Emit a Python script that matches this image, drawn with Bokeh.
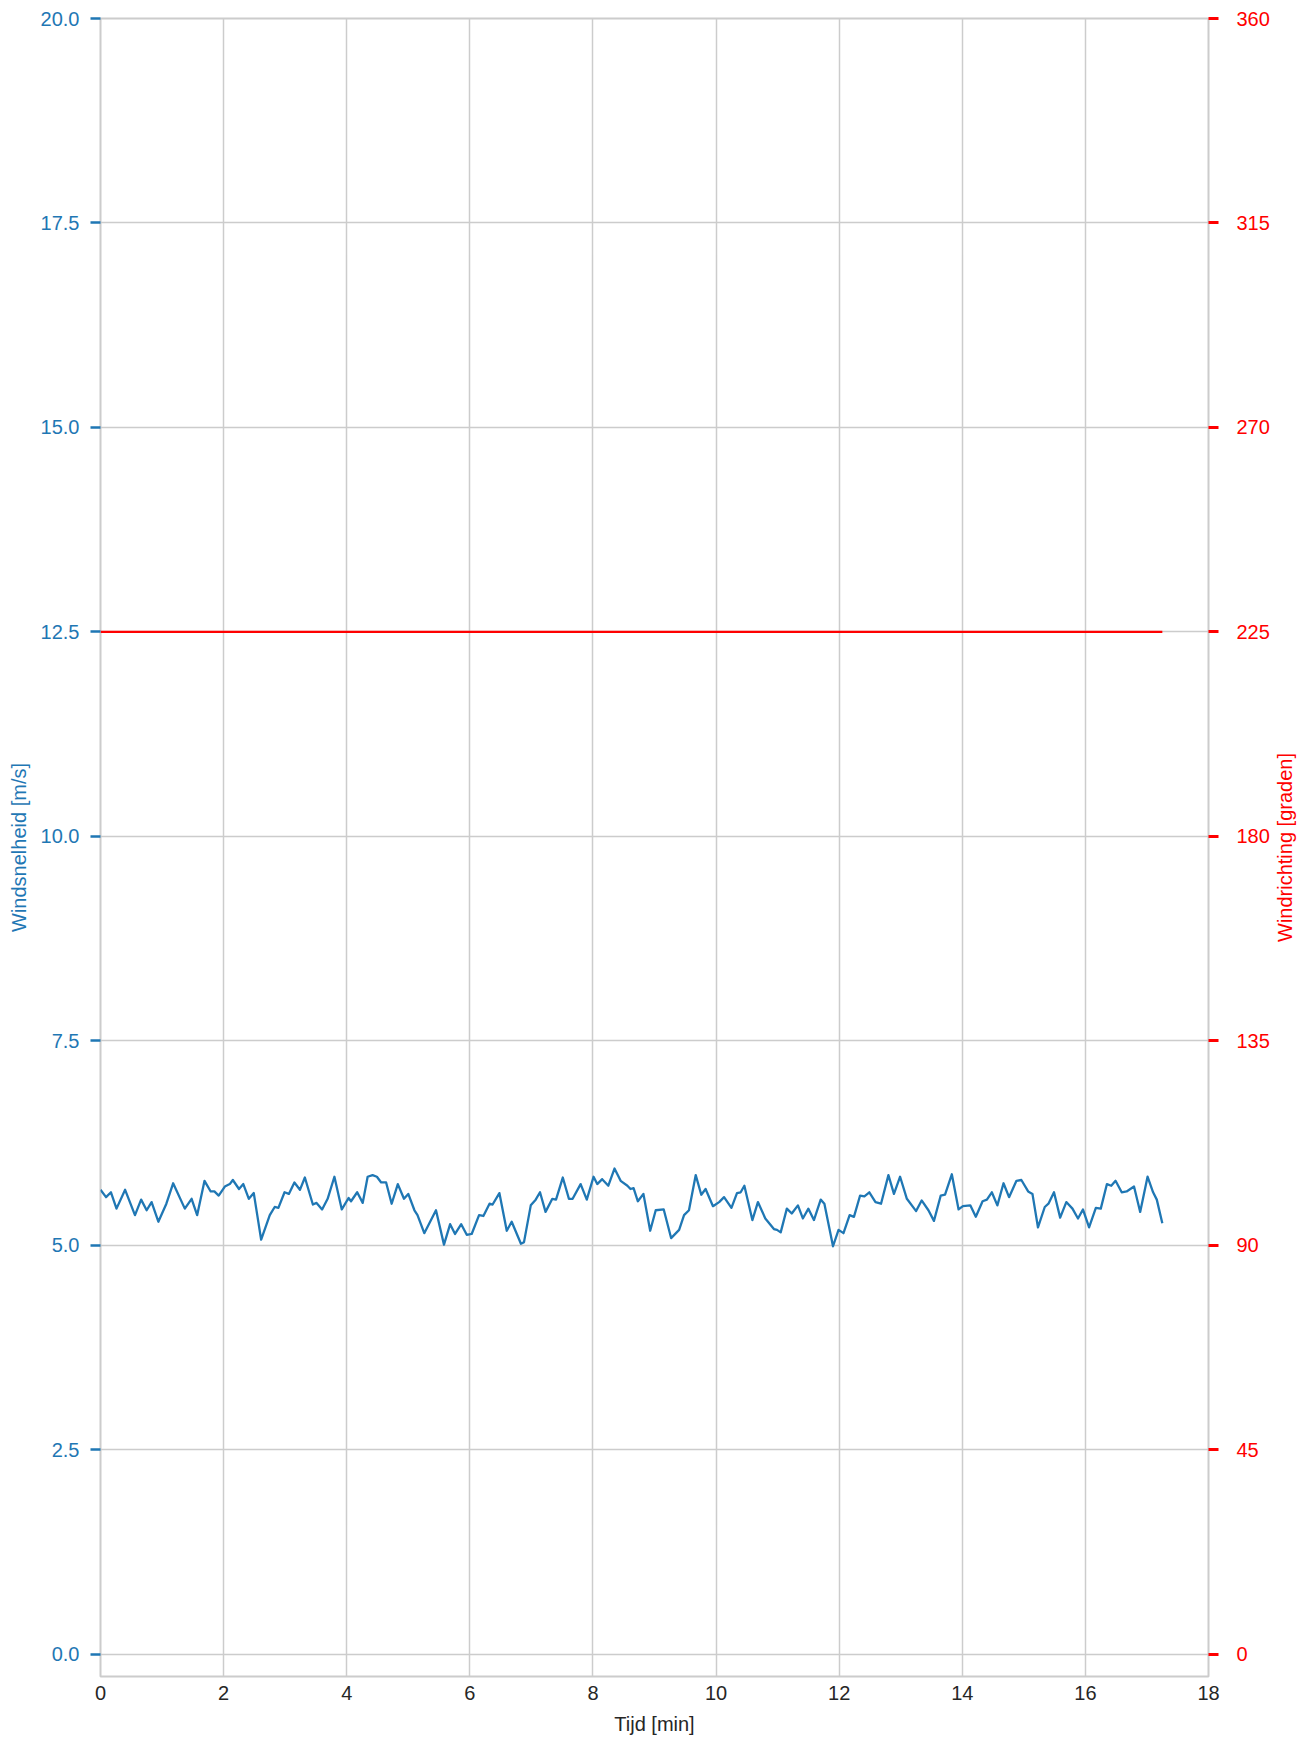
import math
from bokeh.plotting import figure
from bokeh.layouts import row
from bokeh.models import Range1d, LinearAxis, FixedTicker, NumeralTickFormatter, Label
from bokeh.embed import file_html
from bokeh.resources import INLINE

# ---- data ----
time_min = [0.00, 0.09, 0.17, 0.26, 0.40, 0.56, 0.66, 0.75, 0.83, 0.94, 1.07, 1.18, 1.37, 1.48, 1.57,
            1.69, 1.79, 1.85, 1.92, 2.02, 2.10, 2.15, 2.25, 2.32, 2.41, 2.49, 2.61, 2.75, 2.83, 2.89,
            2.99, 3.06, 3.15, 3.24, 3.32, 3.45, 3.51, 3.60, 3.69, 3.80, 3.92, 4.03, 4.07, 4.17, 4.26,
            4.34, 4.42, 4.49, 4.56, 4.64, 4.73, 4.83, 4.93, 5.00, 5.10, 5.15, 5.26, 5.45, 5.58, 5.68,
            5.76, 5.86, 5.95, 6.03, 6.15, 6.22, 6.32, 6.37, 6.48, 6.60, 6.68, 6.83, 6.88, 6.99, 7.07,
            7.14, 7.23, 7.34, 7.40, 7.51, 7.61, 7.67, 7.80, 7.90, 8.01, 8.07, 8.15, 8.25, 8.35, 8.45,
            8.56, 8.61, 8.66, 8.73, 8.82, 8.93, 9.02, 9.15, 9.27, 9.40, 9.48, 9.56, 9.67, 9.76, 9.83,
            9.95, 10.05, 10.13, 10.25, 10.34, 10.40, 10.46, 10.59, 10.68, 10.80, 10.94, 10.99, 11.05,
            11.15, 11.23, 11.33, 11.41, 11.50, 11.59, 11.70, 11.76, 11.90, 11.99, 12.07, 12.17, 12.24,
            12.34, 12.41, 12.49, 12.59, 12.68, 12.80, 12.89, 12.99, 13.10, 13.25, 13.34, 13.45, 13.54,
            13.65, 13.72, 13.83, 13.94, 14.01, 14.13, 14.22, 14.33, 14.40, 14.48, 14.57, 14.67, 14.76,
            14.88, 14.96, 15.07, 15.14, 15.23, 15.34, 15.40, 15.49, 15.59, 15.69, 15.79, 15.88, 15.96,
            16.06, 16.17, 16.25, 16.35, 16.42, 16.49, 16.59, 16.67, 16.79, 16.89, 17.01, 17.10, 17.16,
            17.25]
wind_speed = [5.68, 5.59, 5.65, 5.45, 5.68, 5.37, 5.56, 5.43, 5.53, 5.29, 5.51, 5.76, 5.45, 5.57, 5.37,
              5.79, 5.66, 5.66, 5.61, 5.72, 5.75, 5.80, 5.69, 5.75, 5.57, 5.64, 5.07, 5.37, 5.47, 5.46,
              5.65, 5.63, 5.77, 5.68, 5.83, 5.50, 5.52, 5.44, 5.57, 5.84, 5.44, 5.58, 5.54, 5.65, 5.52,
              5.84, 5.86, 5.84, 5.77, 5.77, 5.51, 5.75, 5.57, 5.63, 5.43, 5.37, 5.15, 5.43, 5.01, 5.26,
              5.14, 5.26, 5.13, 5.14, 5.37, 5.36, 5.51, 5.50, 5.64, 5.18, 5.29, 5.02, 5.04, 5.49, 5.56,
              5.65, 5.41, 5.57, 5.56, 5.83, 5.57, 5.57, 5.75, 5.56, 5.84, 5.75, 5.81, 5.73, 5.94, 5.79,
              5.73, 5.69, 5.70, 5.54, 5.63, 5.18, 5.43, 5.44, 5.09, 5.19, 5.37, 5.43, 5.86, 5.62, 5.69,
              5.48, 5.53, 5.59, 5.46, 5.64, 5.65, 5.73, 5.31, 5.53, 5.33, 5.20, 5.19, 5.16,
              5.45, 5.39, 5.49, 5.33, 5.45, 5.31, 5.56, 5.51, 4.99, 5.19, 5.15, 5.37, 5.35,
              5.61, 5.60, 5.65, 5.53, 5.51, 5.86, 5.63, 5.84, 5.57, 5.42, 5.55, 5.43, 5.30,
              5.61, 5.62, 5.87, 5.44, 5.48, 5.49, 5.35, 5.54, 5.56, 5.65, 5.49, 5.76, 5.59,
              5.79, 5.80, 5.66, 5.63, 5.22, 5.47, 5.51, 5.65, 5.34, 5.53, 5.45, 5.33, 5.44,
              5.22, 5.46, 5.45, 5.75, 5.73, 5.79, 5.65, 5.66, 5.72, 5.41, 5.84, 5.65, 5.56,
              5.27]
dir_time = [0.0, 17.25]
wind_dir = [225, 225]

x_ticks = [0, 2, 4, 6, 8, 10, 12, 14, 16, 18]
speed_ticks = [0.0, 2.5, 5.0, 7.5, 10.0, 12.5, 15.0, 17.5, 20.0]
dir_ticks = [0, 45, 90, 135, 180, 225, 270, 315, 360]

BLUE = "#1f77b4"
RED = "red"
GRID = "#cccccc"
DARK = "#262626"
FONT = "Liberation Sans"
FS = "20px"

X0, X1 = 0, 18
Y0, Y1 = -0.27, 20
TOP, BOTTOM = 18, 64

p = figure(width=1272, height=1740, output_backend="svg", toolbar_location=None,
           x_range=Range1d(X0, X1), y_range=Range1d(Y0, Y1),
           min_border_left=100, min_border_right=62, min_border_top=TOP, min_border_bottom=BOTTOM,
           background_fill_color="white", border_fill_color="white")
p.extra_y_ranges = {"right": Range1d(Y0 * 18, 360)}

p.outline_line_color = GRID
p.outline_line_width = 2

# grid
p.xgrid.ticker = FixedTicker(ticks=x_ticks)
p.ygrid.ticker = FixedTicker(ticks=speed_ticks)
for g in (p.xgrid, p.ygrid):
    g.grid_line_color = GRID
    g.grid_line_width = 1.5

# bottom axis
xa = p.xaxis[0]
xa.ticker = FixedTicker(ticks=x_ticks)
xa.axis_label = "Tijd [min]"
xa.axis_line_color = None
xa.major_tick_line_color = None
xa.major_tick_out = 0
xa.major_tick_in = 0
xa.minor_tick_line_color = None
xa.major_label_standoff = 9
xa.axis_label_standoff = 10
xa.major_label_text_color = DARK
xa.axis_label_text_color = DARK
xa.major_label_text_font = FONT
xa.axis_label_text_font = FONT
xa.major_label_text_font_size = FS
xa.axis_label_text_font_size = FS
xa.axis_label_text_font_style = "normal"

# left axis
ya = p.yaxis[0]
ya.ticker = FixedTicker(ticks=speed_ticks)
ya.formatter = NumeralTickFormatter(format="0.0")
ya.axis_label = "Windsnelheid [m/s]"
ya.axis_line_color = None
ya.major_tick_line_color = BLUE
ya.major_tick_line_width = 2.5
ya.major_tick_out = 10
ya.major_tick_in = 0
ya.minor_tick_line_color = None
ya.major_label_standoff = 11
ya.axis_label_standoff = 8
ya.major_label_text_color = BLUE
ya.axis_label_text_color = BLUE
ya.major_label_text_font = FONT
ya.axis_label_text_font = FONT
ya.major_label_text_font_size = FS
ya.axis_label_text_font_size = FS
ya.axis_label_text_font_style = "normal"

# right axis (ticks + labels)
ra = LinearAxis(y_range_name="right", ticker=FixedTicker(ticks=dir_ticks),
                formatter=NumeralTickFormatter(format="0"))
ra.axis_line_color = None
ra.major_tick_line_color = RED
ra.major_tick_line_width = 3
ra.major_tick_out = 10
ra.major_tick_in = 0
ra.minor_tick_line_color = None
ra.major_label_standoff = 18
ra.major_label_text_color = RED
ra.major_label_text_font = FONT
ra.major_label_text_font_size = FS
p.add_layout(ra, "right")

p.line(time_min, wind_speed, line_color=BLUE, line_width=2.3, line_join="round")
p.line(dir_time, wind_dir, y_range_name="right", line_color=RED, line_width=2.3)

# narrow strip carrying the right-axis title, reading bottom-to-top
p2 = figure(width=33, height=1740, output_backend="svg", toolbar_location=None,
            x_range=Range1d(0, 1), y_range=Range1d(Y0, Y1),
            x_axis_location=None, y_axis_location=None,
            min_border_left=0, min_border_right=0, min_border_top=TOP, min_border_bottom=BOTTOM,
            background_fill_color="white", border_fill_color="white")
p2.outline_line_color = None
p2.xgrid.visible = False
p2.ygrid.visible = False
p2.add_layout(Label(x=0.364, y=(Y0 + Y1) / 2, text="Windrichting [graden]",
                    angle=math.pi / 2, text_align="center", text_baseline="middle",
                    text_color=RED, text_font=FONT, text_font_size=FS))

layout = row(p, p2, spacing=0)
open("out.html", "w").write(file_html(layout, INLINE))
